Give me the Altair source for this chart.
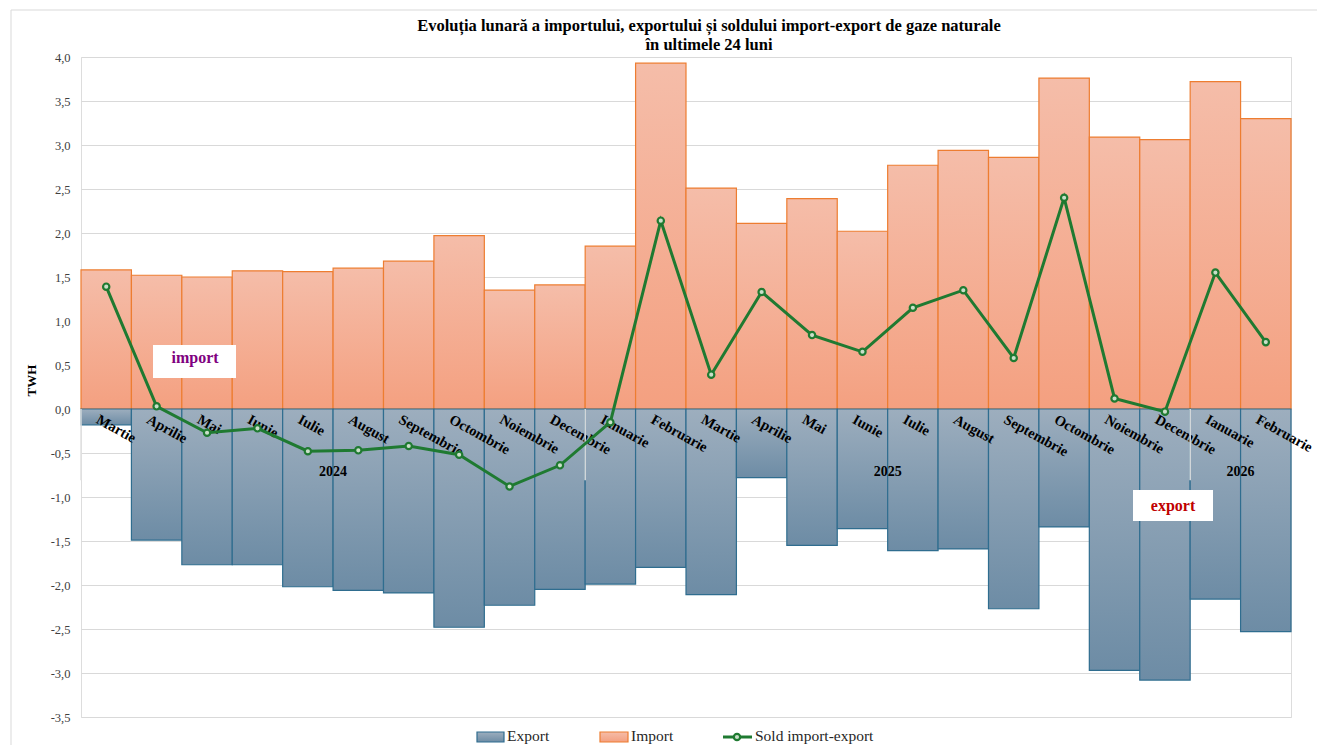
import altair as alt
import pandas as pd

months = ["Martie", "Aprilie", "Mai", "Iunie", "Iulie", "August", "Septembrie", "Octombrie",
          "Noiembrie", "Decembrie", "Ianuarie", "Februarie", "Martie", "Aprilie", "Mai", "Iunie",
          "Iulie", "August", "Septembrie", "Octombrie", "Noiembrie", "Decembrie", "Ianuarie", "Februarie"]
years = [2024] * 10 + [2025] * 12 + [2026] * 2
import_vals = [1.58, 1.52, 1.50, 1.57, 1.56, 1.60, 1.68, 1.97, 1.35, 1.41, 1.85, 3.93,
               2.51, 2.11, 2.39, 2.02, 2.77, 2.94, 2.86, 3.76, 3.09, 3.06, 3.72, 3.30]
export_vals = [-0.18, -1.49, -1.77, -1.77, -2.02, -2.06, -2.09, -2.48, -2.23, -2.05, -1.99, -1.80,
               -2.11, -0.78, -1.55, -1.36, -1.61, -1.59, -2.27, -1.34, -2.97, -3.08, -2.16, -2.53]
sold_vals = [1.39, 0.03, -0.27, -0.22, -0.48, -0.47, -0.42, -0.52, -0.88, -0.64, -0.15, 2.14,
             0.39, 1.33, 0.84, 0.65, 1.15, 1.35, 0.58, 2.40, 0.12, -0.03, 1.55, 0.76]
y_ticks = [-3.5, -3.0, -2.5, -2.0, -1.5, -1.0, -0.5, 0.0, 0.5, 1.0, 1.5, 2.0, 2.5, 3.0, 3.5, 4.0]
title_lines = ["Evoluția lunară a importului, exportului și soldului import-export de gaze naturale",
               "în ultimele 24 luni"]

df = pd.DataFrame({"month": months, "year": years, "imp": import_vals,
                   "exp": export_vals, "sold": sold_vals})
df["x0"] = range(len(df))
df["x1"] = df["x0"] + 1
df["xc"] = df["x0"] + 0.5

year_df = df.groupby("year").agg(start=("x0", "min"), end=("x1", "max")).reset_index()
year_df["mid"] = (year_df["start"] + year_df["end"]) / 2
year_df["label"] = year_df["year"].astype(str)

SERIF = "Liberation Serif"
xs = alt.Scale(domain=[0, 24], nice=False, zero=False)
ys = alt.Scale(domain=[-3.5, 4.0], nice=False, zero=False)

label_expr = "(datum.value < 0 ? '-' : '') + replace(format(abs(datum.value), '.1f'), '.', ',')"

base = alt.Chart(df)

imp_grad = alt.Gradient(gradient="linear",
                        stops=[alt.GradientStop(color="#f5bda9", offset=0),
                               alt.GradientStop(color="#f4a080", offset=1)],
                        x1=0, x2=0, y1=0, y2=1)
exp_grad = alt.Gradient(gradient="linear",
                        stops=[alt.GradientStop(color="#9daebe", offset=0),
                               alt.GradientStop(color="#6d8ca5", offset=1)],
                        x1=0, x2=0, y1=0, y2=1)

imp_bars = base.mark_bar(fill=imp_grad, stroke="#ed7d31", strokeWidth=1.2).encode(
    x=alt.X("x0:Q", scale=xs, axis=None),
    x2="x1:Q",
    y=alt.Y("imp:Q", scale=ys,
            axis=alt.Axis(values=y_ticks, labelExpr=label_expr, title="TWH",
                          labelFont=SERIF, labelFontSize=12.5, labelColor="#404040",
                          labelPadding=11, ticks=False, domain=False,
                          gridColor="#d9d9d9", gridWidth=1,
                          titleFont=SERIF, titleFontSize=13, titleFontWeight="bold",
                          titleColor="black", titleX=-50, titleY=323,
                          titleAlign="center", titleBaseline="middle")),
    y2=alt.datum(0),
)
exp_bars = base.mark_bar(fill=exp_grad, stroke="#2f6d8f", strokeWidth=1.2).encode(
    x=alt.X("x0:Q", scale=xs), x2="x1:Q",
    y=alt.Y("exp:Q", scale=ys), y2=alt.datum(0),
)

month_text = base.mark_text(angle=29, align="left", baseline="top", font=SERIF,
                            fontSize=14.5, fontWeight="bold", color="black",
                            dx=-3, dy=6).encode(
    x=alt.X("xc:Q", scale=xs), y=alt.datum(0), text="month:N")

seps = alt.Chart(year_df).mark_rule(color="#e0e0e0", strokeWidth=1.5).encode(
    x=alt.X("start:Q", scale=xs), y=alt.datum(0), y2=alt.datum(-0.81))

year_text = alt.Chart(year_df).mark_text(font=SERIF, fontSize=14, fontWeight="bold",
                                         color="black").encode(
    x=alt.X("mid:Q", scale=xs), y=alt.datum(-0.72), text="label:N")

line = base.mark_line(color="#1f7a31", strokeWidth=3).encode(
    x=alt.X("xc:Q", scale=xs), y=alt.Y("sold:Q", scale=ys))
pts = base.mark_point(shape="circle", size=40, filled=True, fill="#c9dfc9",
                      stroke="#1f7a31", strokeWidth=2.2, opacity=1).encode(
    x=alt.X("xc:Q", scale=xs), y=alt.Y("sold:Q", scale=ys))

one = pd.DataFrame({"k": [1]})

title = [
    alt.Chart(one).mark_text(text=title_lines[0], font=SERIF, fontSize=16.5, fontWeight="bold",
                             color="black", baseline="middle").encode(
        x=alt.value(628), y=alt.value(-31)),
    alt.Chart(one).mark_text(text=title_lines[1], font=SERIF, fontSize=16.5, fontWeight="bold",
                             color="black", baseline="middle").encode(
        x=alt.value(628), y=alt.value(-12)),
]

ann = [
    alt.Chart(one).mark_rect(fill="white").encode(
        x=alt.value(72), x2=alt.value(155), y=alt.value(288), y2=alt.value(321)),
    alt.Chart(one).mark_text(text="import", font=SERIF, fontSize=16, fontWeight="bold",
                             color="#800080").encode(x=alt.value(114), y=alt.value(301)),
    alt.Chart(one).mark_rect(fill="white").encode(
        x=alt.value(1052), x2=alt.value(1132), y=alt.value(433), y2=alt.value(464)),
    alt.Chart(one).mark_text(text="export", font=SERIF, fontSize=16, fontWeight="bold",
                             color="#c00000").encode(x=alt.value(1092), y=alt.value(449)),
]

# frame lines of the original chart box
frame = [
    alt.Chart(one).mark_rule(color="#d9d9d9", strokeWidth=1).encode(
        x=alt.value(-70), y=alt.value(-47), y2=alt.value(690)),
    alt.Chart(one).mark_rule(color="#d9d9d9", strokeWidth=1).encode(
        x=alt.value(-70), x2=alt.value(1240), y=alt.value(-47)),
]

# legend
LY = 679
legend = [
    alt.Chart(one).mark_rect(fill=exp_grad, stroke="#2f6d8f", strokeWidth=1.2).encode(
        x=alt.value(396), x2=alt.value(423), y=alt.value(LY - 4), y2=alt.value(LY + 6)),
    alt.Chart(one).mark_text(text="Export", font=SERIF, fontSize=15.5, align="left",
                             color="#262626").encode(x=alt.value(426), y=alt.value(LY)),
    alt.Chart(one).mark_rect(fill=imp_grad, stroke="#ed7d31", strokeWidth=1.2).encode(
        x=alt.value(519), x2=alt.value(547), y=alt.value(LY - 4), y2=alt.value(LY + 6)),
    alt.Chart(one).mark_text(text="Import", font=SERIF, fontSize=15.5, align="left",
                             color="#262626").encode(x=alt.value(550), y=alt.value(LY)),
    alt.Chart(one).mark_rule(color="#1f7a31", strokeWidth=3).encode(
        x=alt.value(642), x2=alt.value(671), y=alt.value(LY + 1)),
    alt.Chart(one).mark_point(shape="circle", size=40, filled=True, fill="#c9dfc9",
                              stroke="#1f7a31", strokeWidth=2.2, opacity=1).encode(
        x=alt.value(656), y=alt.value(LY + 1)),
    alt.Chart(one).mark_text(text="Sold import-export", font=SERIF, fontSize=15.5, align="left",
                             color="#262626").encode(x=alt.value(674), y=alt.value(LY)),
]

chart = alt.layer(
    imp_bars, exp_bars, month_text, seps, year_text, line, pts, *title, *ann, *frame, *legend
).properties(
    width=1210, height=660,
    autosize=alt.AutoSizeParams(type="none"),
    padding={"left": 73, "top": 49, "right": 26, "bottom": 28},
).configure_view(stroke=None).configure(background="white")

chart.save("out.html", embed_options={"renderer": "svg", "actions": False})
